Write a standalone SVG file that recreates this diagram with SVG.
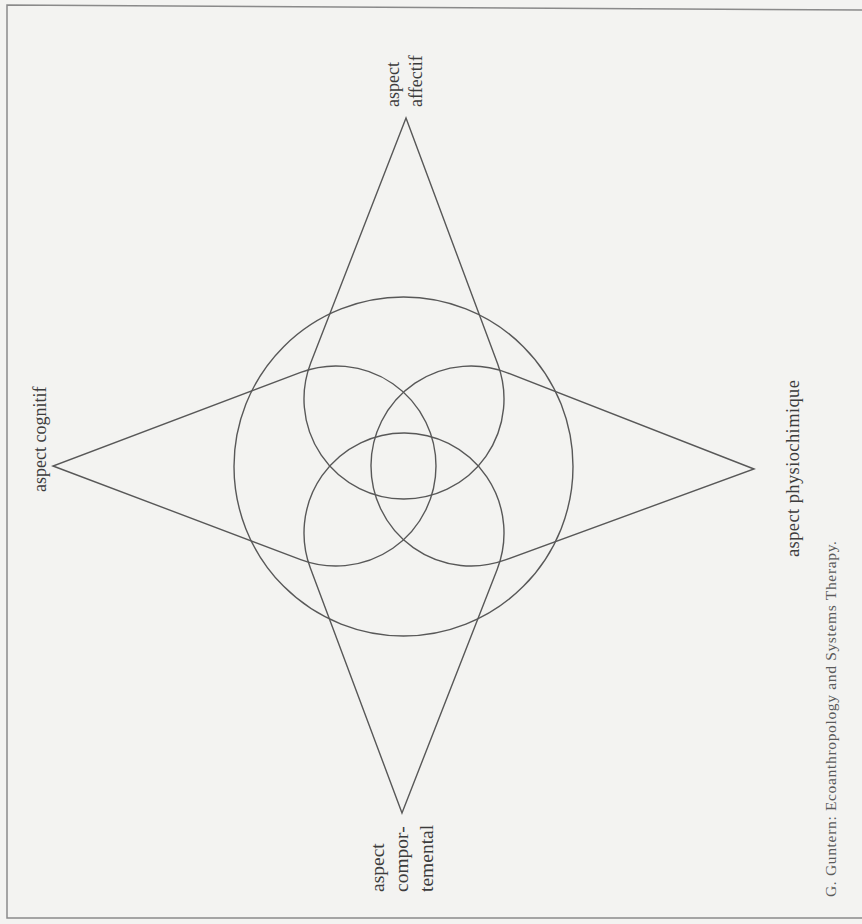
<svg xmlns="http://www.w3.org/2000/svg" width="862" height="924" viewBox="0 0 862 924">
  <style>
    .ln { fill: none; stroke: #585858; stroke-width: 1.4; stroke-linejoin: miter; }
    .lbl { font-family: "Liberation Serif", "Times New Roman", serif; fill: #3c3c3c; }
    .frame { fill: none; stroke: #8a8a8a; stroke-width: 1.5; }
  </style>
  <rect x="0" y="0" width="862" height="924" fill="#f3f3f1"/>
  <g id="frame">
    <polyline class="frame" points="862,10 7,5 7,918 862,918"/>
  </g>
  <g id="connectors">
    <circle id="outer-circle" class="ln" cx="403.5" cy="466.5" r="169.5"/>
  </g>
  <g id="node-affectif">
    <path class="ln" d="M406 118 L310.80 362.75 A100 100 0 1 0 497.70 364.08 Z"/>
    <text class="lbl" font-size="18" transform="translate(399,107) rotate(-90)">aspect</text>
    <text class="lbl" font-size="18" transform="translate(422,107) rotate(-90)">affectif</text>
  </g>
  <g id="node-comportemental">
    <path class="ln" d="M402 813 L497.15 569.38 A100 100 0 1 0 310.35 568.05 Z"/>
    <text class="lbl" font-size="19.5" transform="translate(384,892) rotate(-90)">aspect</text>
    <text class="lbl" font-size="19.5" transform="translate(408,892) rotate(-90)">compor-</text>
    <text class="lbl" font-size="19.5" transform="translate(433,892) rotate(-90)">temental</text>
  </g>
  <g id="node-cognitif">
    <path class="ln" d="M53 466 L300.66 559.55 A100 100 0 1 0 300.66 372.45 Z"/>
    <text class="lbl" font-size="18" transform="translate(46,492) rotate(-90)">aspect cognitif</text>
  </g>
  <g id="node-physiochimique">
    <path class="ln" d="M754 469 L507.32 372.83 A100 100 0 1 0 505.34 559.92 Z"/>
    <text class="lbl" font-size="18.5" textLength="177" lengthAdjust="spacing" transform="translate(799,557) rotate(-90)">aspect physiochimique</text>
  </g>
  <g id="caption">
    <text class="lbl" font-size="15.5" fill="#5a5a5a" style="fill:#5a5a5a" textLength="356" lengthAdjust="spacing" transform="translate(836,897) rotate(-90)">G. Guntern: Ecoanthropology and Systems Therapy.</text>
  </g>
</svg>
